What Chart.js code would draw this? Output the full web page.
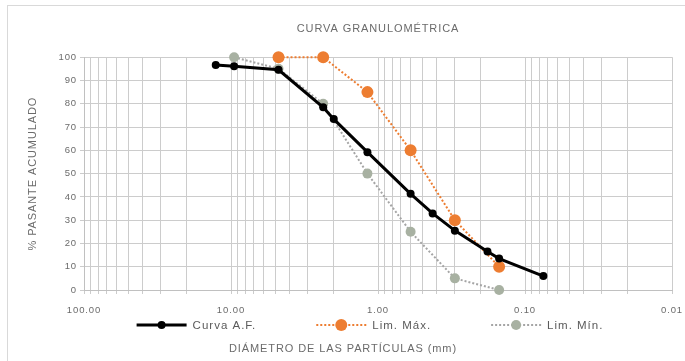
<!DOCTYPE html>
<html>
<head>
<meta charset="utf-8">
<script src="https://cdn.jsdelivr.net/npm/chart.js@4.4.0/dist/chart.umd.min.js"></script>
<style>
html, body { margin: 0; padding: 0; background: #fff; overflow: hidden; }
#wrap { position: relative; width: 685px; height: 361px; }
#frame { position: absolute; left: 7px; top: 5px; width: 700px; height: 400px; border: 1px solid #d9d9d9; }
canvas { position: absolute; left: 0; top: 0; }
</style>
</head>
<body>
<div id="wrap">
<div id="frame"></div>
<canvas id="myChart" width="685" height="361"></canvas>
</div>
<script>
// sieve openings (mm) and % passing
var curvaSizes = [12.7, 9.525, 4.75, 2.36, 2.0, 1.18, 0.6, 0.425, 0.3, 0.18, 0.15, 0.075];
var curvaPass  = [96.6, 96.1, 94.6, 78.5, 73.4, 59.2, 41.3, 32.9, 25.5, 16.5, 13.5, 6.0];

var maxSizes = [4.75, 2.36, 1.18, 0.6, 0.3, 0.15];
var maxPass  = [100, 100, 85, 60, 30, 10];

var minSizes = [9.525, 4.75, 2.36, 1.18, 0.6, 0.3, 0.15];
var minPass  = [100, 95, 80, 50, 25, 5, 0];

var xMajorTicks = [100, 10, 1, 0.1, 0.01];
var yTicks = [0, 10, 20, 30, 40, 50, 60, 70, 80, 90, 100];

var txt = '#6b6b6b';
var fontName = "'Liberation Sans', Arial, sans-serif";

function pts(xs, ys) {
    return xs.map(function (x, i) { return { x: x, y: ys[i] }; });
}

// excel-like wide letter spacing for all chart text
var spacing = {
    id: 'spacing',
    beforeUpdate: function (chart) { chart.ctx.letterSpacing = '0.9px'; },
    beforeDraw: function (chart) { chart.ctx.letterSpacing = '0.9px'; }
};

// legend drawn by hand: line + marker + label, spread like the excel one
var legendRow = {
    id: 'legendRow',
    afterDraw: function (chart) {
        var ctx = chart.ctx;
        var area = chart.chartArea;
        var lineLen = 50, textGap = 6, itemGap = 60;
        var y = area.bottom + 35;
        ctx.save();
        ctx.font = '11.5px ' + fontName;
        ctx.letterSpacing = '1px';
        var sets = chart.data.datasets;
        var widths = sets.map(function (ds) { return lineLen + textGap + ctx.measureText(ds.label).width; });
        var total = widths.reduce(function (a, b) { return a + b; }, 0) + itemGap * (sets.length - 1);
        var x = (area.left + area.right) / 2 - total / 2 - 8;
        sets.forEach(function (ds, i) {
            ctx.strokeStyle = ds.borderColor;
            ctx.lineWidth = ds.borderWidth;
            ctx.setLineDash(ds.borderDash || []);
            ctx.beginPath();
            ctx.moveTo(x, y);
            ctx.lineTo(x + lineLen, y);
            ctx.stroke();
            ctx.setLineDash([]);
            ctx.fillStyle = ds.pointBackgroundColor;
            ctx.beginPath();
            ctx.arc(x + lineLen / 2, y, ds.pointRadius, 0, Math.PI * 2);
            ctx.fill();
            ctx.fillStyle = '#5a5a5a';
            ctx.textBaseline = 'middle';
            ctx.textAlign = 'left';
            ctx.fillText(ds.label, x + lineLen + textGap, y + 0.5);
            x += widths[i] + itemGap;
        });
        ctx.restore();
    }
};

var ctx = document.getElementById('myChart').getContext('2d');
var chart = new Chart(ctx, {
    type: 'scatter',
    data: {
        datasets: [{
            label: 'Curva A.F.',
            data: pts(curvaSizes, curvaPass),
            showLine: true,
            clip: false,
            borderColor: '#000000',
            backgroundColor: '#000000',
            pointBackgroundColor: '#000000',
            pointBorderWidth: 0,
            borderWidth: 3,
            pointRadius: 4
        }, {
            label: 'Lim. Máx.',
            data: pts(maxSizes, maxPass),
            showLine: true,
            clip: false,
            borderColor: '#ED7D31',
            backgroundColor: '#ED7D31',
            pointBackgroundColor: '#ED7D31',
            pointBorderWidth: 0,
            borderWidth: 2,
            borderDash: [2, 2],
            pointRadius: 6
        }, {
            label: 'Lim. Mín.',
            data: pts(minSizes, minPass),
            showLine: true,
            clip: false,
            borderColor: '#a5a5a5',
            backgroundColor: '#a8b1a2',
            pointBackgroundColor: '#a8b1a2',
            pointBorderWidth: 0,
            borderWidth: 2,
            borderDash: [2, 2],
            pointRadius: 5
        }]
    },
    plugins: [spacing, legendRow],
    options: {
        responsive: false,
        animation: false,
        layout: { padding: { left: 14, right: 13, top: 0, bottom: 0 } },
        plugins: {
            title: {
                display: true,
                fullSize: false,
                text: 'CURVA GRANULOMÉTRICA',
                color: txt,
                font: { family: fontName, size: 11, weight: 'normal' },
                padding: { top: 22, bottom: 22 }
            },
            subtitle: {
                display: true,
                position: 'bottom',
                text: 'DIÁMETRO DE LAS PARTÍCULAS (mm)',
                color: txt,
                font: { family: fontName, size: 11 },
                padding: { top: 24.4, bottom: 5.4 }
            },
            legend: { display: false },
            tooltip: { enabled: false }
        },
        scales: {
            x: {
                type: 'logarithmic',
                reverse: true,
                min: 0.01,
                max: 100,
                afterBuildTicks: function (scale) {
                    var t = [];
                    for (var e = -2; e < 2; e++) {
                        for (var m = 1; m < 10; m++) t.push({ value: m * Math.pow(10, e) });
                    }
                    t.push({ value: 100 });
                    scale.ticks = t;
                },
                afterFit: function (scale) { scale.height = 28; },
                ticks: {
                    autoSkip: false,
                    maxRotation: 0,
                    padding: 11,
                    color: txt,
                    font: { family: fontName, size: 9.5 },
                    callback: function (v) {
                        for (var k = 0; k < xMajorTicks.length; k++) {
                            if (Math.abs(v - xMajorTicks[k]) < xMajorTicks[k] * 1e-6) return xMajorTicks[k].toFixed(2);
                        }
                        return '';
                    }
                },
                grid: { color: '#cccccc', tickLength: 4 },
                border: { color: '#c0c0c0' }
            },
            y: {
                min: 0,
                max: 100,
                afterBuildTicks: function (scale) {
                    scale.ticks = yTicks.map(function (v) { return { value: v }; });
                },
                afterFit: function (scale) { scale.width = 70; },
                ticks: {
                    padding: 3,
                    color: txt,
                    font: { family: fontName, size: 9.5 }
                },
                grid: { color: '#cccccc', tickLength: 4 },
                border: { color: '#c0c0c0' },
                title: {
                    display: true,
                    text: '% PASANTE ACUMULADO',
                    color: txt,
                    font: { family: fontName, size: 11 },
                    padding: { top: 12, bottom: 0 }
                }
            }
        }
    }
});
</script>
</body>
</html>
